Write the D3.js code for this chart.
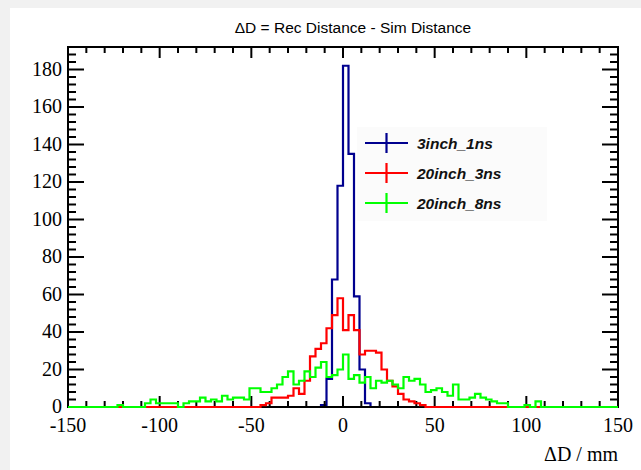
<!DOCTYPE html>
<html>
<head>
<meta charset="utf-8">
<script src="https://cdn.jsdelivr.net/npm/d3@7"></script>
<style>
  body { margin: 0; background: #f1f1f1; }
  svg { display: block; }
</style>
</head>
<body>
<div class="chart"></div>
<script>
// bins: 100 bins of 3 mm from -150 to 150
var binLow = -150, binWidth = 3, nBins = 100;

var seriesNames = ["3inch_1ns", "20inch_3ns", "20inch_8ns"];
var seriesColors = ["#00008f", "#ff0000", "#00ff00"];

// counts per bin
var blue = [
  0,0,0,0,0,0,0,0,0,0, 0,0,0,0,0,0,0,0,0,0,
  0,0,0,0,0,0,0,0,0,0, 0,0,0,0,0,0,0,0,0,0,
  0,0,0,0,0,0,1,15,68,118, 182,135,59,20,2,0,0,0,0,0,
  0,0,0,0,0,0,0,0,0,0, 0,0,0,0,0,0,0,0,0,0,
  0,0,0,0,0,0,0,0,0,0, 0,0,0,0,0,0,0,0,0,0
];
var red = [
  0,0,0,0,0,0,0,0,0,0, 0,0,0,0,0,0,0,0,0,0,
  0,0,0,0,0,0,0,0,0,0, 0,0,0,0,0,1,2,5,5,5,
  6,10,7,14,27,31,34,42,49,58, 41,49,41,28,30,30,29,20,14,11,
  7,4,3,2,1,0,0,0,0,0, 0,0,0,0,0,0,0,0,0,0,
  0,0,0,0,0,0,0,0,0,0, 0,0,0,0,0,0,0,0,0,0
];
var green = [
  0,0,0,0,0,0,0,0,0,1, 0,0,0,0,2,4,2,2,2,2,
  0,2,3,3,5,3,4,3,6,4, 5,5,4,10,10,8,8,10,12,16,
  19,12,14,19,16,21,24,16,17,20, 28,15,17,13,16,10,14,13,14,12,
  10,16,14,15,12,8,9,10,8,6, 12,4,4,5,7,5,4,3,2,2,
  0,0,0,1,0,3,0,0,0,0, 0,0,0,0,0,0,0,0,0,0
];

var xTicks = [-150, -100, -50, 0, 50, 100, 150];
var yTicks = [0, 20, 40, 60, 80, 100, 120, 140, 160, 180];

var W = 641, H = 470;
var margin = { top: 47, right: 23, bottom: 63, left: 68 },
    width = W - margin.left - margin.right,
    height = H - margin.top - margin.bottom;

var svg = d3.select(".chart").append("svg")
    .attr("width", W)
    .attr("height", H);

// white canvas like the ROOT pad
svg.append("rect")
    .attr("x", 10).attr("y", 8)
    .attr("width", W - 10).attr("height", H - 8)
    .attr("fill", "#ffffff");

var g = svg.append("g")
    .attr("transform", "translate(" + margin.left + "," + margin.top + ")");

var x = d3.scaleLinear().domain([-150, 150]).range([0, width]);
var y = d3.scaleLinear().domain([0, 192]).range([height, 0]);

function histPath(counts) {
    var pts = [];
    counts.forEach(function(c, i) {
        var lo = binLow + i * binWidth;
        pts.push([x(lo), y(c)]);
        pts.push([x(lo + binWidth), y(c)]);
    });
    return d3.line()(pts);
}

// title
svg.append("text")
    .attr("x", 353).attr("y", 33)
    .attr("text-anchor", "middle")
    .attr("font-family", "Liberation Sans, Arial, sans-serif")
    .attr("font-size", 15.5)
    .text("\u0394D = Rec Distance - Sim Distance");

// first histogram goes under the axes (as ROOT draws it)
g.append("path")
    .attr("d", histPath(blue))
    .attr("fill", "none")
    .attr("stroke", seriesColors[0])
    .attr("stroke-width", 2.2);

// frame + ticks
var axes = g.append("g").attr("stroke", "#000");
axes.append("rect")
    .attr("width", width).attr("height", height)
    .attr("fill", "none")
    .attr("stroke-width", 2);

d3.range(-150, 151, 10).forEach(function(v) {
    var major = v % 50 === 0, len = major ? 11 : 6;
    axes.append("line").attr("x1", x(v)).attr("x2", x(v))
        .attr("y1", height).attr("y2", height - len).attr("stroke-width", 2);
    axes.append("line").attr("x1", x(v)).attr("x2", x(v))
        .attr("y1", 0).attr("y2", len).attr("stroke-width", 2);
});
d3.range(0, 192, 4).forEach(function(v) {
    var major = v % 20 === 0, len = major ? 16 : 8;
    axes.append("line").attr("y1", y(v)).attr("y2", y(v))
        .attr("x1", 0).attr("x2", len).attr("stroke-width", 2);
    axes.append("line").attr("y1", y(v)).attr("y2", y(v))
        .attr("x1", width).attr("x2", width - len).attr("stroke-width", 2);
});

// tick labels
var lab = g.append("g")
    .attr("font-family", "Liberation Serif, Times New Roman, serif")
    .attr("font-size", 20)
    .attr("fill", "#000");

yTicks.forEach(function(v) {
    lab.append("text")
        .attr("x", -6).attr("y", y(v) + 6)
        .attr("text-anchor", "end")
        .text(v);
});
xTicks.forEach(function(v) {
    lab.append("text")
        .attr("x", x(v)).attr("y", height + 25)
        .attr("text-anchor", "middle")
        .text(v);
});
lab.append("text")
    .attr("x", width).attr("y", height + 54)
    .attr("text-anchor", "end")
    .text("\u0394D / mm");

// the other two histograms are drawn with "same", over the axes
g.append("path")
    .attr("d", histPath(red))
    .attr("fill", "none")
    .attr("stroke", seriesColors[1])
    .attr("stroke-width", 2.2);
g.append("path")
    .attr("d", histPath(green))
    .attr("fill", "none")
    .attr("stroke", seriesColors[2])
    .attr("stroke-width", 2.2);

// legend
var legend = svg.append("g");
legend.append("rect")
    .attr("x", 357).attr("y", 127)
    .attr("width", 190).attr("height", 94)
    .attr("fill", "#fbfbfb");

seriesNames.forEach(function(name, i) {
    var cy = 143 + i * 30;
    var item = legend.append("g").attr("stroke", seriesColors[i]).attr("stroke-width", 2.2);
    item.append("line").attr("x1", 365).attr("x2", 408).attr("y1", cy).attr("y2", cy);
    item.append("line").attr("x1", 386.5).attr("x2", 386.5).attr("y1", cy - 10).attr("y2", cy + 10);
    legend.append("text")
        .attr("x", 417).attr("y", cy + 5.5)
        .attr("font-family", "Liberation Sans, Arial, sans-serif")
        .attr("font-size", 15.5)
        .attr("font-weight", "bold")
        .attr("font-style", "italic")
        .attr("fill", "#111")
        .text(name);
});
</script>
</body>
</html>
